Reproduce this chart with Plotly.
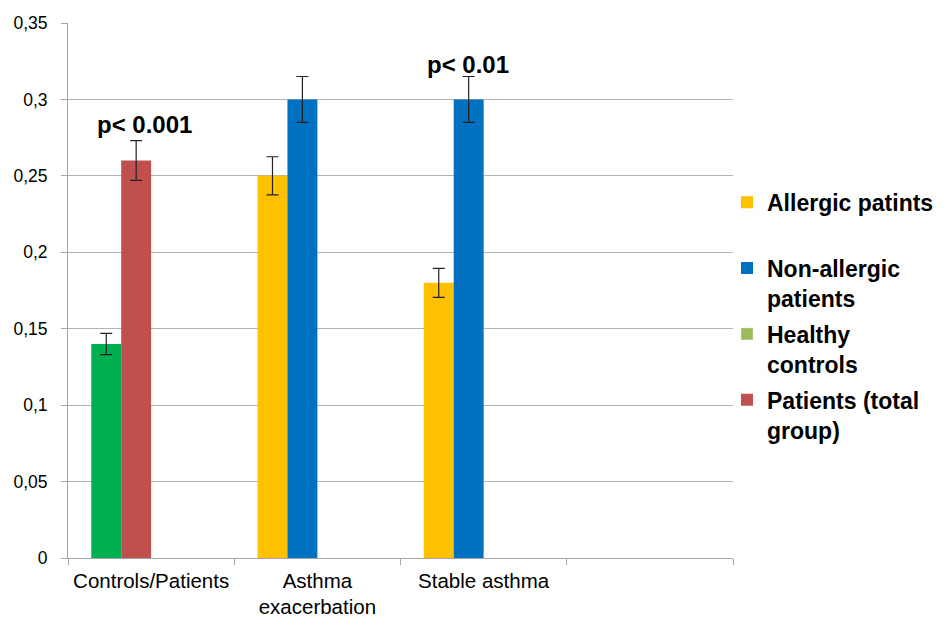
import plotly.graph_objects as go

# Categories on the x axis (the last slot is left empty)
categories = ["Controls/Patients", "Asthma<br>exacerbation", "Stable asthma", " "]

# Series values and their standard errors
allergic = [None, 0.25, 0.18, None]
allergic_err = [0, 0.0125, 0.0095, 0]
non_allergic = [None, 0.30, 0.30, None]
non_allergic_err = [0, 0.015, 0.015, 0]
healthy = [0.14, None, None, None]
healthy_err = [0.007, 0, 0, 0]
patients_total = [0.26, None, None, None]
patients_total_err = [0.013, 0, 0, 0]

y_tick_values = [0, 0.05, 0.1, 0.15, 0.2, 0.25, 0.3, 0.35]
y_tick_labels = ["0", "0,05", "0,1", "0,15", "0,2", "0,25", "0,3", "0,35"]

FONT = "Liberation Sans, Arial, sans-serif"
BAR_W = 0.18
SLOT1 = -0.36
SLOT2 = -0.18

err_style = dict(type="data", visible=True, color="#222222", thickness=1.2, width=6)

fig = go.Figure()


def add_series(name, values, errors, color, offset, rank, showlegend=True):
    fig.add_trace(go.Bar(
        name=name, x=categories, y=values,
        error_y=dict(array=errors, **err_style),
        marker=dict(color=color, line=dict(width=0)),
        width=BAR_W, offset=offset,
        showlegend=showlegend, legendrank=rank, legendgroup=name,
    ))


add_series("Allergic patints<br> ", allergic, allergic_err, "#FFC000", SLOT1, 1)
add_series("Non-allergic<br>patients", non_allergic, non_allergic_err, "#0070C0", SLOT2, 2)
add_series("healthy_bars", healthy, healthy_err, "#00B050", SLOT1, 3, showlegend=False)
add_series("Patients (total<br>group)", patients_total, patients_total_err, "#C0504D", SLOT2, 4)

# legend key for the control group
fig.add_trace(go.Bar(
    name="Healthy<br>controls", x=[categories[0]], y=[None],
    marker=dict(color="#9BBB59"), legendrank=3, legendgroup="healthy",
))

fig.add_annotation(x=-0.04, y=0.2735, xref="x", yref="y", text="<b>p< 0.001</b>",
                   showarrow=False, yanchor="bottom",
                   font=dict(family=FONT, size=24, color="#000000"))
fig.add_annotation(x=1.905, y=0.3128, xref="x", yref="y", text="<b>p< 0.01</b>",
                   showarrow=False, yanchor="bottom",
                   font=dict(family=FONT, size=24, color="#000000"))

fig.update_layout(
    width=947, height=617, autosize=False,
    margin=dict(l=67.5, r=213.5, t=23, b=58.5, autoexpand=False),
    paper_bgcolor="white", plot_bgcolor="white",
    barmode="overlay",
    font=dict(family=FONT, color="#000000"),
    legend=dict(
        x=0.991, xanchor="left", y=0.705, yanchor="top",
        valign="top", tracegroupgap=3,
        font=dict(family=FONT, size=23, color="#000000", weight="bold"),
        bgcolor="rgba(0,0,0,0)",
    ),
    xaxis=dict(
        type="category", range=[-0.5, 3.5], automargin=False,
        showline=True, linecolor="#A6A6A6", linewidth=1,
        ticks="outside", tickson="boundaries", ticklen=6, tickcolor="#A6A6A6",
        showgrid=False, tickfont=dict(family=FONT, size=20.5, color="#000000"),
        ticklabelstandoff=4,
    ),
    yaxis=dict(
        range=[0, 0.35], tickvals=y_tick_values, ticktext=y_tick_labels,
        automargin=False,
        showline=True, linecolor="#A6A6A6", linewidth=1,
        ticks="outside", ticklen=6, tickcolor="#A6A6A6",
        showgrid=True, gridcolor="#B3B3B3", gridwidth=1,
        zeroline=False, tickfont=dict(family=FONT, size=17.5, color="#000000"),
        ticklabelstandoff=10,
    ),
)

fig.write_html("out.html")
